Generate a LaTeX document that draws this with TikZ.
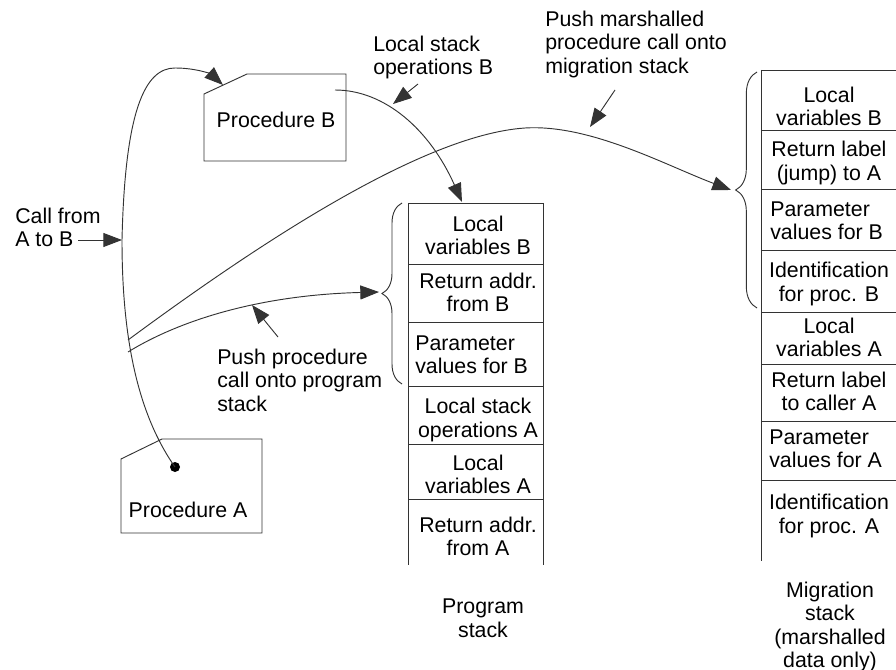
\documentclass[tikz,border=0pt]{standalone}
\usepackage{fontspec}
\setmainfont{Liberation Sans}
\usetikzlibrary{arrows.meta}
\usetikzlibrary{decorations.pathreplacing}
\tikzset{
	wire/.style={draw=black!80, line width=.7pt},
	ptr/.style={wire, -{Triangle[length=14pt, width=10.5pt]}},
	cell/.style={align=center, inner sep=0pt},
	lcell/.style={align=left, anchor=west, inner sep=0pt},
	lbl/.style={align=left, anchor=north west, inner sep=0pt},
	stackbrace/.style={wire, decorate, decoration={brace, amplitude=#1}}
}

\begin{document}
\begin{tikzpicture}[x=.75pt, y=-.75pt, font=\fontsize{16}{17.4}\selectfont]
				\useasboundingbox (0,0) rectangle (896,670);
				\draw[wire] (204,94) -- (247,74) -- (346,74) -- (346,161) -- (204,161) -- cycle;
				\draw[wire] (121,459) -- (162,439) -- (262,439) -- (262,533) -- (121,533) -- cycle;
				\node (procB) at (276,120) {Procedure B};
				\node (procA) at (188,510) {Procedure A};
				\node[circle, fill=black, inner sep=0pt, minimum size=7.5pt] (dotA) at (175,467) {};
				\foreach \y in {203,264,322,386,444,499} {
					\draw[wire] (408,\y) -- (543,\y);
				}
				\draw[wire] (408,203) -- (408,565) (543,203) -- (543,565);
				\foreach \i/\y/\txt in {1/235/{Local\\variables B}, 2/292/{Return addr.\\from B}, 4/420/{Local stack\\operations A}, 5/474/{Local\\variables A}, 6/536/{Return addr.\\from A}} {
					\node[cell] (ps\i) at (478,\y) {\txt};
				}
				\node[lcell] (ps3) at (415,355) {Parameter\\values for B};
				\foreach \y in {70,130,189,250,312,364,421,480} {
					\draw[wire] (761,\y) -- (896,\y);
				}
				\draw[wire] (761,70) -- (761,561);
				\foreach \i/\y/\txt in {1/106/{Local\\variables B}, 2/163/{Return label\\(jump) to A}, 4/284/{Identification\\for proc. B}, 5/337/{Local\\variables A}, 6/391/{Return label\\to caller A}, 8/516/{Identification\\for proc. A}} {
					\node[cell] (ms\i) at (829,\y) {\txt};
				}
				\node[lcell] (ms3) at (770,221) {Parameter\\values for B};
				\node[lcell] (ms7) at (769,449) {Parameter\\values for A};
				\draw[stackbrace=15pt] (402,384) -- (402,203);
				\draw[stackbrace=16pt] (757,308) -- (757,72);
				\node[cell, anchor=north] (pslbl) at (483,599) {Program\\stack};
				\node[cell, anchor=north] (mslbl) at (830,582) {Migration\\stack\\(marshalled\\data only)};
				\node[lbl] (callAB) at (15,208) {Call from\\A to B};
				\node[lbl] (lsops) at (373,36) {Local stack\\operations B};
				\node[lbl] (pushmig) at (545,11) {Push marshalled\\procedure call onto\\migration stack};
				\node[lbl] (pushprog) at (217,349) {Push procedure\\call onto program\\stack};
				\coordinate (bnotch) at (223,85);
				\coordinate (bstart) at (335,90);
				\coordinate (fork1) at (128,340);
				\coordinate (fork2) at (128,352);
				\coordinate (pstop) at (462,202);
				\coordinate (pstip) at (379,292);
				\coordinate (mstip) at (731,190);
				\draw[ptr] (dotA.center) .. controls (135,410) and (122,330) .. (122,240) .. controls (125,110) and (145,68) .. (175,68) .. controls (198,68) and (212,75) .. (bnotch);
				\draw[ptr] (bstart) .. controls (385,90) and (430,130) .. (pstop);
				\draw[ptr] (fork2) .. controls (180,320) and (260,295) .. (pstip);
				\draw[ptr] (fork1) .. controls (250,250) and (420,135) .. (525,128) .. controls (590,124) and (665,165) .. (mstip);
				\coordinate (calltail) at (78,240);
				\coordinate (callhead) at (122,240);
				\coordinate (lstail) at (418,84);
				\coordinate (lshead) at (393,104);
				\coordinate (migtail) at (615,90);
				\coordinate (mighead) at (590,127);
				\coordinate (progtail) at (278,337);
				\coordinate (proghead) at (252,305);
				\draw[ptr] (calltail) -- (callhead);
				\draw[ptr] (lstail) -- (lshead);
				\draw[ptr] (migtail) -- (mighead);
				\draw[ptr] (progtail) -- (proghead);
			\end{tikzpicture}
\end{document}
